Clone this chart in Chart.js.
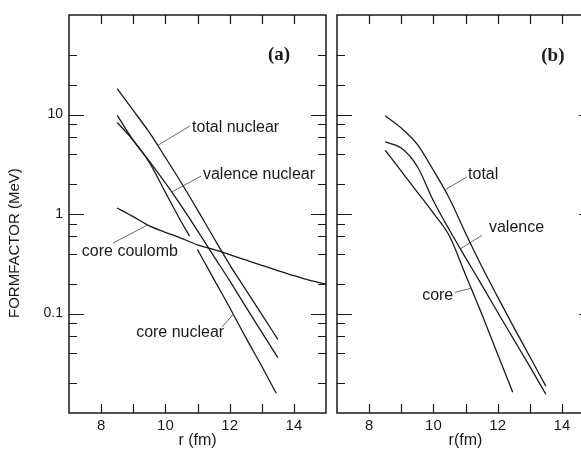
<!DOCTYPE html>
<html>
<head>
<meta charset="utf-8">
<script src="https://cdn.jsdelivr.net/npm/chart.js@4.4.0/dist/chart.umd.min.js"></script>
<style>
  html, body { margin: 0; padding: 0; background: #fff; overflow: hidden; width: 581px; height: 450px; }
  canvas { position: absolute; top: 0; }
  #panelA { left: 0; }
  #panelB { left: 331px; }
</style>
</head>
<body>
<canvas id="panelA" width="332" height="450"></canvas>
<canvas id="panelB" width="270" height="450"></canvas>
<script>
// ---- panel (a): r in fm, formfactor in MeV ----
const rA = [8.5, 9, 9.5, 10, 10.5, 11, 11.5, 12, 12.5, 13, 13.5];
const totalNuclear = [18.2, 11.0, 6.6, 3.7, 2.05, 1.1, 0.58, 0.31, 0.174, 0.098, 0.055];
const valenceNuclear = [9.8, 5.5, 3.4, 2.05, 1.2, 0.68, 0.38, 0.214, 0.117, 0.065, 0.036];
const rCoreNuclear = [8.5, 9, 9.5, 10, 10.5, 10.75, 10.85, 11, 11.5, 12, 12.5, 13, 13.45];
const coreNuclear = [8.3, 5.5, 3.3, 1.65, 0.83, 0.6, null, 0.44, 0.224, 0.115, 0.0575, 0.0295, 0.0158];
const rCoulomb = [8.5, 9, 9.5, 10, 10.5, 11, 11.5, 12, 12.5, 13, 13.5, 14, 14.5, 15];
const coreCoulomb = [1.15, 0.94, 0.76, 0.655, 0.57, 0.49, 0.44, 0.39, 0.345, 0.305, 0.27, 0.24, 0.215, 0.197];

// ---- panel (b) ----
const rB = [8.5, 9, 9.5, 10, 10.5, 11, 11.5, 12, 12.5, 13, 13.5];
const totalB = [9.7, 7.3, 5.0, 2.75, 1.43, 0.645, 0.30, 0.147, 0.073, 0.037, 0.0186];
const valenceB = [5.3, 4.6, 3.0, 1.36, 0.69, 0.365, 0.195, 0.103, 0.055, 0.0294, 0.0155];
const rCoreB = [8.5, 9, 9.5, 10, 10.5, 11, 11.5, 12, 12.47];
const coreB = [4.37, 2.7, 1.66, 1.02, 0.6, 0.245, 0.1, 0.039, 0.0162];

// axes
const xLabels = [8, 10, 12, 14];
const xTickMarks = [8, 9, 10, 11, 12, 13, 14];
const yLabels = [0.1, 1, 10];
const yTickMarks = [0.02, 0.04, 0.06, 0.08, 0.1, 0.2, 0.4, 0.6, 0.8, 1, 2, 4, 6, 8, 10, 20, 40];

const ink = '#1a1a1a';
const textFont = '16px "Liberation Sans", Arial, sans-serif';
const tagFont = 'bold 19px "Liberation Serif", "Times New Roman", serif';

function pts(xs, ys) {
  return xs.map((x, i) => ({ x: x, y: ys[i] }));
}
function curve(xs, ys) {
  return { data: pts(xs, ys), borderColor: ink, borderWidth: 1.3, pointRadius: 0,
           cubicInterpolationMode: 'monotone', spanGaps: false };
}

// frame, inward ticks, curve labels
const frameTicks = {
  id: 'frameTicks',
  afterDraw(chart, args, opts) {
    const { ctx, chartArea: a } = chart;
    const x = chart.scales.x, y = chart.scales.y;
    ctx.save();
    ctx.strokeStyle = ink;
    ctx.lineWidth = 1.5;
    ctx.strokeRect(a.left, a.top, a.right - a.left, a.bottom - a.top);
    ctx.lineWidth = 1.2;
    ctx.beginPath();
    yTickMarks.forEach(v => {
      const py = Math.round(y.getPixelForValue(v)) + 0.5;
      const len = yLabels.includes(v) ? 15 : 8;
      ctx.moveTo(a.left, py); ctx.lineTo(a.left + len, py);
      ctx.moveTo(a.right, py); ctx.lineTo(a.right - len, py);
    });
    xTickMarks.forEach(v => {
      const px = Math.round(x.getPixelForValue(v)) + 0.5;
      ctx.moveTo(px, a.bottom); ctx.lineTo(px, a.bottom - 9);
      ctx.moveTo(px, a.top); ctx.lineTo(px, a.top + 9);
    });
    ctx.stroke();

    ctx.fillStyle = ink;
    ctx.textBaseline = 'middle';
    (opts.notes || []).forEach(n => {
      ctx.font = n.font || textFont;
      ctx.textAlign = n.align || 'left';
      ctx.fillText(n.text, x.getPixelForValue(n.at[0]), y.getPixelForValue(n.at[1]));
      if (n.leader) {
        ctx.strokeStyle = '#444';
        ctx.lineWidth = 0.8;
        ctx.beginPath();
        ctx.moveTo(x.getPixelForValue(n.leader[0][0]), y.getPixelForValue(n.leader[0][1]));
        ctx.lineTo(x.getPixelForValue(n.leader[1][0]), y.getPixelForValue(n.leader[1][1]));
        ctx.stroke();
      }
    });

    if (opts.yTitle) {
      ctx.save();
      ctx.translate(15, y.getPixelForValue(opts.yTitle.at));
      ctx.rotate(-Math.PI / 2);
      ctx.font = '15px "Liberation Sans", Arial, sans-serif';
      ctx.textAlign = 'center';
      ctx.fillText(opts.yTitle.text, 0, 0);
      ctx.restore();
    }
    ctx.restore();
  }
};

function makeChart(id, datasets, cfg) {
  return new Chart(document.getElementById(id), {
    type: 'line',
    data: { datasets: datasets },
    plugins: [frameTicks],
    options: {
      responsive: false,
      animation: false,
      events: [],
      layout: { padding: { top: 15, right: cfg.padRight, left: cfg.padLeft, bottom: 0 } },
      plugins: {
        legend: { display: false },
        tooltip: { enabled: false },
        frameTicks: { notes: cfg.notes, yTitle: cfg.yTitle }
      },
      scales: {
        x: {
          type: 'linear', min: 7, max: 15,
          afterBuildTicks: s => { s.ticks = xLabels.map(v => ({ value: v })); },
          afterFit: s => { s.height = 37; },
          ticks: { autoSkip: false, maxRotation: 0, padding: 4, color: ink,
                   font: { family: 'Liberation Sans', size: 15 }, callback: v => String(v) },
          grid: { display: false, drawTicks: false },
          border: { display: false },
          title: { display: true, text: cfg.xTitle, color: ink,
                   font: { family: 'Liberation Sans', size: 16 }, padding: { top: 0, bottom: 0 } }
        },
        y: {
          type: 'logarithmic', min: 0.01, max: 100,
          display: cfg.showY,
          afterBuildTicks: s => { s.ticks = yLabels.map(v => ({ value: v })); },
          afterFit: s => { s.width = cfg.showY ? 69 : 0; },
          ticks: { autoSkip: false, padding: 6, color: ink,
                   font: { family: 'Liberation Sans', size: 14 }, callback: v => String(v) },
          grid: { display: false, drawTicks: false },
          border: { display: false }
        }
      }
    }
  });
}

makeChart('panelA', [
  curve(rA, totalNuclear),
  curve(rA, valenceNuclear),
  curve(rCoreNuclear, coreNuclear),
  curve(rCoulomb, coreCoulomb)
], {
  padLeft: 0, padRight: 6, showY: true, xTitle: 'r (fm)',
  yTitle: { text: 'FORMFACTOR (MeV)', at: 0.51 },
  notes: [
    { text: '(a)', at: [13.54, 39.6], font: tagFont, align: 'center' },
    { text: 'total nuclear', at: [10.83, 7.31], leader: [[10.77, 7.7], [9.77, 4.9]] },
    { text: 'valence nuclear', at: [11.17, 2.47], leader: [[11.11, 2.4], [10.21, 1.67]] },
    { text: 'core coulomb', at: [7.40, 0.415], leader: [[8.37, 0.51], [9.46, 0.78]] },
    { text: 'core nuclear', at: [9.09, 0.0637], leader: [[11.76, 0.0731], [12.1, 0.097]] }
  ]
});

makeChart('panelB', [
  curve(rB, totalB),
  curve(rB, valenceB),
  curve(rCoreB, coreB)
], {
  padLeft: 6, padRight: 7, showY: false, xTitle: 'r(fm)',
  notes: [
    { text: '(b)', at: [13.72, 38.7], font: tagFont, align: 'center' },
    { text: 'total', at: [11.08, 2.47], leader: [[11.05, 2.36], [10.36, 1.75]] },
    { text: 'valence', at: [11.73, 0.723], leader: [[11.51, 0.61], [10.86, 0.45]] },
    { text: 'core', at: [9.65, 0.153], leader: [[10.67, 0.163], [11.2, 0.18]] }
  ]
});
</script>
</body>
</html>
